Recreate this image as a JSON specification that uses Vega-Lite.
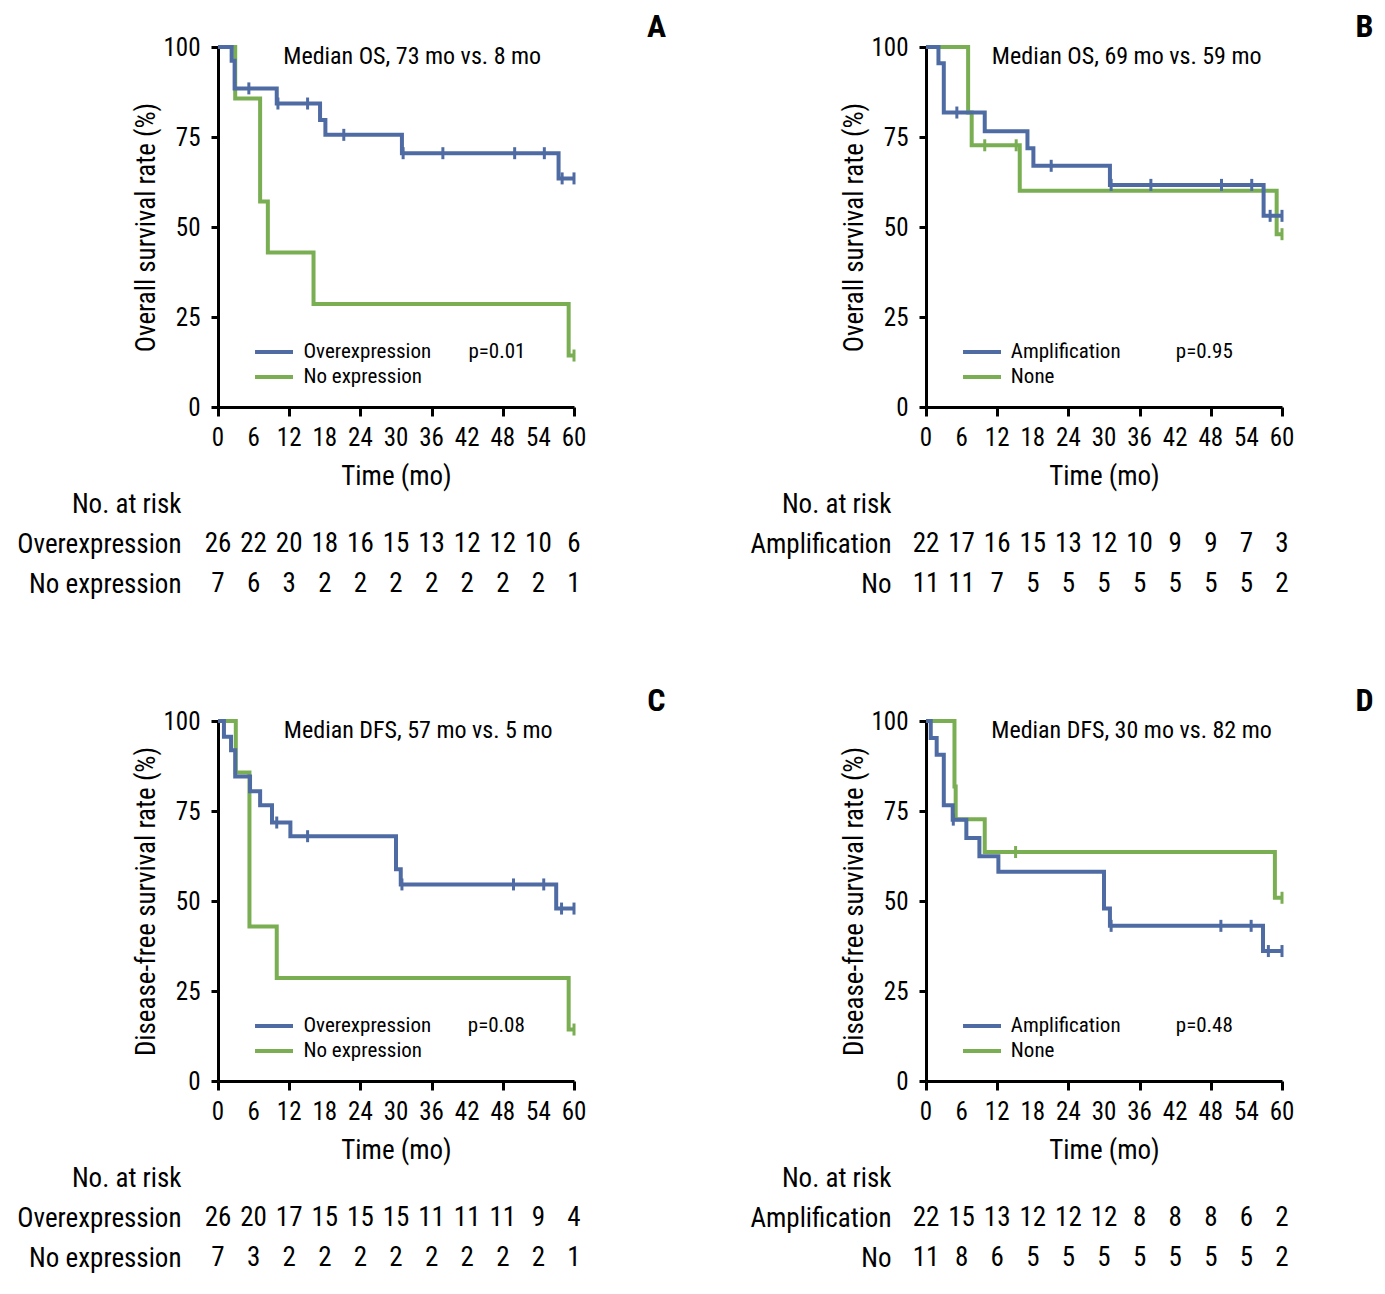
{
  "$schema": "https://vega.github.io/schema/vega-lite/v6.json",
  "autosize": {"type": "pad"},
  "padding": {"left": 16, "top": 11, "right": 10, "bottom": 10},
  "background": "white",
  "columns": 2,
  "spacing": {"row": 97, "column": 352},
  "bounds": "flush",
  "align": "each",
  "datasets": {
    "ticks": [{"v":0},{"v":6},{"v":12},{"v":18},{"v":24},{"v":30},{"v":36},{"v":42},{"v":48},{"v":54},{"v":60}],
    "km": [
      {"p":"A","g":"No expression","t":0,"s":100,"c":0},
      {"p":"A","g":"No expression","t":2.9,"s":85.7,"c":0},
      {"p":"A","g":"No expression","t":7.1,"s":57.1,"c":0},
      {"p":"A","g":"No expression","t":8.4,"s":42.9,"c":0},
      {"p":"A","g":"No expression","t":16.1,"s":28.6,"c":0},
      {"p":"A","g":"No expression","t":59.1,"s":14.3,"c":0},
      {"p":"A","g":"No expression","t":60,"s":14.3,"c":1},
      {"p":"A","g":"Overexpression","t":0,"s":100,"c":0},
      {"p":"A","g":"Overexpression","t":2.3,"s":96.2,"c":0},
      {"p":"A","g":"Overexpression","t":2.8,"s":88.5,"c":0},
      {"p":"A","g":"Overexpression","t":5.2,"s":88.5,"c":1},
      {"p":"A","g":"Overexpression","t":9.9,"s":84.3,"c":0},
      {"p":"A","g":"Overexpression","t":10.1,"s":84.3,"c":1},
      {"p":"A","g":"Overexpression","t":15.1,"s":84.3,"c":1},
      {"p":"A","g":"Overexpression","t":17.2,"s":79.7,"c":0},
      {"p":"A","g":"Overexpression","t":18.1,"s":75.6,"c":0},
      {"p":"A","g":"Overexpression","t":21.2,"s":75.6,"c":1},
      {"p":"A","g":"Overexpression","t":31.0,"s":70.5,"c":0},
      {"p":"A","g":"Overexpression","t":31.2,"s":70.5,"c":1},
      {"p":"A","g":"Overexpression","t":37.9,"s":70.5,"c":1},
      {"p":"A","g":"Overexpression","t":50.0,"s":70.5,"c":1},
      {"p":"A","g":"Overexpression","t":55.0,"s":70.5,"c":1},
      {"p":"A","g":"Overexpression","t":57.4,"s":63.5,"c":0},
      {"p":"A","g":"Overexpression","t":58.0,"s":63.5,"c":1},
      {"p":"A","g":"Overexpression","t":60,"s":63.5,"c":1},
      {"p":"B","g":"None","t":0,"s":100,"c":0},
      {"p":"B","g":"None","t":7.1,"s":81.8,"c":0},
      {"p":"B","g":"None","t":7.7,"s":72.7,"c":0},
      {"p":"B","g":"None","t":9.9,"s":72.7,"c":1},
      {"p":"B","g":"None","t":15.2,"s":72.7,"c":1},
      {"p":"B","g":"None","t":15.8,"s":60.1,"c":0},
      {"p":"B","g":"None","t":59.1,"s":48.0,"c":0},
      {"p":"B","g":"None","t":60,"s":48.0,"c":1},
      {"p":"B","g":"Amplification","t":0,"s":100,"c":0},
      {"p":"B","g":"Amplification","t":2.1,"s":95.5,"c":0},
      {"p":"B","g":"Amplification","t":3.0,"s":81.8,"c":0},
      {"p":"B","g":"Amplification","t":5.2,"s":81.8,"c":1},
      {"p":"B","g":"Amplification","t":9.9,"s":76.6,"c":0},
      {"p":"B","g":"Amplification","t":17.1,"s":71.9,"c":0},
      {"p":"B","g":"Amplification","t":18.1,"s":67.0,"c":0},
      {"p":"B","g":"Amplification","t":21.1,"s":67.0,"c":1},
      {"p":"B","g":"Amplification","t":31.0,"s":61.7,"c":0},
      {"p":"B","g":"Amplification","t":31.2,"s":61.7,"c":1},
      {"p":"B","g":"Amplification","t":37.9,"s":61.7,"c":1},
      {"p":"B","g":"Amplification","t":49.8,"s":61.7,"c":1},
      {"p":"B","g":"Amplification","t":54.9,"s":61.7,"c":1},
      {"p":"B","g":"Amplification","t":56.9,"s":53.1,"c":0},
      {"p":"B","g":"Amplification","t":58.0,"s":53.1,"c":1},
      {"p":"B","g":"Amplification","t":60,"s":53.1,"c":1},
      {"p":"C","g":"No expression","t":0,"s":100,"c":0},
      {"p":"C","g":"No expression","t":3.0,"s":85.7,"c":0},
      {"p":"C","g":"No expression","t":5.3,"s":42.9,"c":0},
      {"p":"C","g":"No expression","t":9.9,"s":28.6,"c":0},
      {"p":"C","g":"No expression","t":59.1,"s":14.3,"c":0},
      {"p":"C","g":"No expression","t":60,"s":14.3,"c":1},
      {"p":"C","g":"Overexpression","t":0,"s":100,"c":0},
      {"p":"C","g":"Overexpression","t":1.0,"s":95.6,"c":0},
      {"p":"C","g":"Overexpression","t":2.2,"s":91.9,"c":0},
      {"p":"C","g":"Overexpression","t":2.9,"s":84.6,"c":0},
      {"p":"C","g":"Overexpression","t":5.4,"s":80.5,"c":0},
      {"p":"C","g":"Overexpression","t":7.1,"s":76.6,"c":0},
      {"p":"C","g":"Overexpression","t":9.1,"s":71.8,"c":0},
      {"p":"C","g":"Overexpression","t":9.9,"s":71.8,"c":1},
      {"p":"C","g":"Overexpression","t":12.2,"s":68.0,"c":0},
      {"p":"C","g":"Overexpression","t":15.1,"s":68.0,"c":1},
      {"p":"C","g":"Overexpression","t":30.0,"s":58.8,"c":0},
      {"p":"C","g":"Overexpression","t":30.8,"s":54.6,"c":0},
      {"p":"C","g":"Overexpression","t":31.0,"s":54.6,"c":1},
      {"p":"C","g":"Overexpression","t":49.8,"s":54.6,"c":1},
      {"p":"C","g":"Overexpression","t":54.9,"s":54.6,"c":1},
      {"p":"C","g":"Overexpression","t":57.0,"s":47.9,"c":0},
      {"p":"C","g":"Overexpression","t":57.9,"s":47.9,"c":1},
      {"p":"C","g":"Overexpression","t":60,"s":47.9,"c":1},
      {"p":"D","g":"None","t":0,"s":100,"c":0},
      {"p":"D","g":"None","t":4.8,"s":81.8,"c":0},
      {"p":"D","g":"None","t":5.0,"s":72.7,"c":0},
      {"p":"D","g":"None","t":9.9,"s":63.6,"c":0},
      {"p":"D","g":"None","t":15.1,"s":63.6,"c":1},
      {"p":"D","g":"None","t":58.8,"s":50.9,"c":0},
      {"p":"D","g":"None","t":60,"s":50.9,"c":1},
      {"p":"D","g":"Amplification","t":0,"s":100,"c":0},
      {"p":"D","g":"Amplification","t":0.8,"s":95.3,"c":0},
      {"p":"D","g":"Amplification","t":1.8,"s":90.6,"c":0},
      {"p":"D","g":"Amplification","t":3.0,"s":76.6,"c":0},
      {"p":"D","g":"Amplification","t":4.5,"s":72.6,"c":0},
      {"p":"D","g":"Amplification","t":4.6,"s":72.6,"c":1},
      {"p":"D","g":"Amplification","t":6.8,"s":67.5,"c":0},
      {"p":"D","g":"Amplification","t":9.0,"s":62.4,"c":0},
      {"p":"D","g":"Amplification","t":12.2,"s":58.1,"c":0},
      {"p":"D","g":"Amplification","t":30.0,"s":47.9,"c":0},
      {"p":"D","g":"Amplification","t":31.0,"s":43.1,"c":0},
      {"p":"D","g":"Amplification","t":31.2,"s":43.1,"c":1},
      {"p":"D","g":"Amplification","t":49.7,"s":43.1,"c":1},
      {"p":"D","g":"Amplification","t":54.8,"s":43.1,"c":1},
      {"p":"D","g":"Amplification","t":56.8,"s":36.1,"c":0},
      {"p":"D","g":"Amplification","t":57.7,"s":36.1,"c":1},
      {"p":"D","g":"Amplification","t":60,"s":36.1,"c":1}
    ],
    "risk": [
      {"p":"A","row":"Overexpression","t":0,"n":26},{"p":"A","row":"Overexpression","t":6,"n":22},{"p":"A","row":"Overexpression","t":12,"n":20},{"p":"A","row":"Overexpression","t":18,"n":18},{"p":"A","row":"Overexpression","t":24,"n":16},{"p":"A","row":"Overexpression","t":30,"n":15},{"p":"A","row":"Overexpression","t":36,"n":13},{"p":"A","row":"Overexpression","t":42,"n":12},{"p":"A","row":"Overexpression","t":48,"n":12},{"p":"A","row":"Overexpression","t":54,"n":10},{"p":"A","row":"Overexpression","t":60,"n":6},
      {"p":"A","row":"No expression","t":0,"n":7},{"p":"A","row":"No expression","t":6,"n":6},{"p":"A","row":"No expression","t":12,"n":3},{"p":"A","row":"No expression","t":18,"n":2},{"p":"A","row":"No expression","t":24,"n":2},{"p":"A","row":"No expression","t":30,"n":2},{"p":"A","row":"No expression","t":36,"n":2},{"p":"A","row":"No expression","t":42,"n":2},{"p":"A","row":"No expression","t":48,"n":2},{"p":"A","row":"No expression","t":54,"n":2},{"p":"A","row":"No expression","t":60,"n":1},
      {"p":"B","row":"Amplification","t":0,"n":22},{"p":"B","row":"Amplification","t":6,"n":17},{"p":"B","row":"Amplification","t":12,"n":16},{"p":"B","row":"Amplification","t":18,"n":15},{"p":"B","row":"Amplification","t":24,"n":13},{"p":"B","row":"Amplification","t":30,"n":12},{"p":"B","row":"Amplification","t":36,"n":10},{"p":"B","row":"Amplification","t":42,"n":9},{"p":"B","row":"Amplification","t":48,"n":9},{"p":"B","row":"Amplification","t":54,"n":7},{"p":"B","row":"Amplification","t":60,"n":3},
      {"p":"B","row":"No","t":0,"n":11},{"p":"B","row":"No","t":6,"n":11},{"p":"B","row":"No","t":12,"n":7},{"p":"B","row":"No","t":18,"n":5},{"p":"B","row":"No","t":24,"n":5},{"p":"B","row":"No","t":30,"n":5},{"p":"B","row":"No","t":36,"n":5},{"p":"B","row":"No","t":42,"n":5},{"p":"B","row":"No","t":48,"n":5},{"p":"B","row":"No","t":54,"n":5},{"p":"B","row":"No","t":60,"n":2},
      {"p":"C","row":"Overexpression","t":0,"n":26},{"p":"C","row":"Overexpression","t":6,"n":20},{"p":"C","row":"Overexpression","t":12,"n":17},{"p":"C","row":"Overexpression","t":18,"n":15},{"p":"C","row":"Overexpression","t":24,"n":15},{"p":"C","row":"Overexpression","t":30,"n":15},{"p":"C","row":"Overexpression","t":36,"n":11},{"p":"C","row":"Overexpression","t":42,"n":11},{"p":"C","row":"Overexpression","t":48,"n":11},{"p":"C","row":"Overexpression","t":54,"n":9},{"p":"C","row":"Overexpression","t":60,"n":4},
      {"p":"C","row":"No expression","t":0,"n":7},{"p":"C","row":"No expression","t":6,"n":3},{"p":"C","row":"No expression","t":12,"n":2},{"p":"C","row":"No expression","t":18,"n":2},{"p":"C","row":"No expression","t":24,"n":2},{"p":"C","row":"No expression","t":30,"n":2},{"p":"C","row":"No expression","t":36,"n":2},{"p":"C","row":"No expression","t":42,"n":2},{"p":"C","row":"No expression","t":48,"n":2},{"p":"C","row":"No expression","t":54,"n":2},{"p":"C","row":"No expression","t":60,"n":1},
      {"p":"D","row":"Amplification","t":0,"n":22},{"p":"D","row":"Amplification","t":6,"n":15},{"p":"D","row":"Amplification","t":12,"n":13},{"p":"D","row":"Amplification","t":18,"n":12},{"p":"D","row":"Amplification","t":24,"n":12},{"p":"D","row":"Amplification","t":30,"n":12},{"p":"D","row":"Amplification","t":36,"n":8},{"p":"D","row":"Amplification","t":42,"n":8},{"p":"D","row":"Amplification","t":48,"n":8},{"p":"D","row":"Amplification","t":54,"n":6},{"p":"D","row":"Amplification","t":60,"n":2},
      {"p":"D","row":"No","t":0,"n":11},{"p":"D","row":"No","t":6,"n":8},{"p":"D","row":"No","t":12,"n":6},{"p":"D","row":"No","t":18,"n":5},{"p":"D","row":"No","t":24,"n":5},{"p":"D","row":"No","t":30,"n":5},{"p":"D","row":"No","t":36,"n":5},{"p":"D","row":"No","t":42,"n":5},{"p":"D","row":"No","t":48,"n":5},{"p":"D","row":"No","t":54,"n":5},{"p":"D","row":"No","t":60,"n":2}
    ]
  },
  "concat": [
    {
      "width": 356, "height": 360,
      "layer": [
        {
          "data": {"name": "km"},
          "transform": [{"filter": "datum.p === 'A'"}],
          "mark": {"type": "line", "interpolate": "step-after", "strokeWidth": 4},
          "encoding": {
            "x": {"field": "t", "type": "quantitative", "scale": {"domain": [0, 60], "nice": false}, "axis": {"values": [0,6,12,18,24,30,36,42,48,54,60], "title": "Time (mo)", "labels": false}},
            "y": {"field": "s", "type": "quantitative", "scale": {"domain": [0, 100], "nice": false}, "axis": {"values": [0,25,50,75,100], "title": "Overall survival rate (%)"}},
            "color": {"field": "g", "type": "nominal", "scale": {"domain": ["Overexpression", "No expression"], "range": ["#4F6BA3", "#7AAE52"]}, "legend": null}
          }
        },
        {
          "data": {"name": "km"},
          "transform": [{"filter": "datum.p === 'A' && datum.c === 1"}],
          "mark": {"type": "tick", "orient": "vertical", "size": 12, "thickness": 3, "opacity": 1},
          "encoding": {"x": {"field": "t", "type": "quantitative"}, "y": {"field": "s", "type": "quantitative"}, "color": {"field": "g", "type": "nominal"}}
        },
        {"data": {"name": "ticks"}, "mark": {"type": "text", "align": "center", "baseline": "top", "dy": 19, "fontSize": 25, "color": "black"}, "encoding": {"x": {"field": "v", "type": "quantitative"}, "y": {"datum": 0}, "text": {"field": "v", "type": "quantitative"}}},
        {"data": {"values": [{"g": "Overexpression"}]}, "mark": {"type": "rule", "strokeWidth": 4}, "encoding": {"x": {"datum": 6.24}, "x2": {"datum": 12.64}, "y": {"datum": 15.3}, "color": {"field": "g", "type": "nominal"}}},
        {"data": {"values": [{"g": "No expression"}]}, "mark": {"type": "rule", "strokeWidth": 4}, "encoding": {"x": {"datum": 6.24}, "x2": {"datum": 12.64}, "y": {"datum": 8.3}, "color": {"field": "g", "type": "nominal"}}},
        {"data": {"values": [{"label": "Overexpression"}]}, "mark": {"type": "text", "align": "left", "baseline": "middle", "fontSize": 21, "color": "black"}, "encoding": {"x": {"datum": 14.4}, "y": {"datum": 15.3}, "text": {"field": "label"}}},
        {"data": {"values": [{"label": "No expression"}]}, "mark": {"type": "text", "align": "left", "baseline": "middle", "fontSize": 21, "color": "black"}, "encoding": {"x": {"datum": 14.4}, "y": {"datum": 8.3}, "text": {"field": "label"}}},
        {
          "data": {"values": [{"label": "Median OS, 73 mo vs. 8 mo"}]},
          "mark": {"type": "text", "align": "left", "baseline": "middle", "fontSize": 24, "color": "black"},
          "encoding": {"x": {"datum": 11}, "y": {"datum": 97.3}, "text": {"field": "label"}}
        },
        {
          "data": {"values": [{"label": "p=0.01"}]},
          "mark": {"type": "text", "align": "left", "baseline": "middle", "fontSize": 21, "color": "black"},
          "encoding": {"x": {"datum": 42.2}, "y": {"datum": 15.3}, "text": {"field": "label"}}
        },
        {
          "data": {"values": [{"label": "A"}]},
          "mark": {"type": "text", "align": "center", "baseline": "middle", "fontSize": 32, "fontWeight": "bold", "color": "black"},
          "encoding": {"x": {"datum": 73.9}, "y": {"datum": 105.5}, "text": {"field": "label"}}
        }
      ]
    },
    {
      "width": 356, "height": 360,
      "layer": [
        {
          "data": {"name": "km"},
          "transform": [{"filter": "datum.p === 'B'"}],
          "mark": {"type": "line", "interpolate": "step-after", "strokeWidth": 4},
          "encoding": {
            "x": {"field": "t", "type": "quantitative", "scale": {"domain": [0, 60], "nice": false}, "axis": {"values": [0,6,12,18,24,30,36,42,48,54,60], "title": "Time (mo)", "labels": false}},
            "y": {"field": "s", "type": "quantitative", "scale": {"domain": [0, 100], "nice": false}, "axis": {"values": [0,25,50,75,100], "title": "Overall survival rate (%)"}},
            "color": {"field": "g", "type": "nominal", "scale": {"domain": ["Amplification", "None"], "range": ["#4F6BA3", "#7AAE52"]}, "legend": null}
          }
        },
        {
          "data": {"name": "km"},
          "transform": [{"filter": "datum.p === 'B' && datum.c === 1"}],
          "mark": {"type": "tick", "orient": "vertical", "size": 12, "thickness": 3, "opacity": 1},
          "encoding": {"x": {"field": "t", "type": "quantitative"}, "y": {"field": "s", "type": "quantitative"}, "color": {"field": "g", "type": "nominal"}}
        },
        {"data": {"name": "ticks"}, "mark": {"type": "text", "align": "center", "baseline": "top", "dy": 19, "fontSize": 25, "color": "black"}, "encoding": {"x": {"field": "v", "type": "quantitative"}, "y": {"datum": 0}, "text": {"field": "v", "type": "quantitative"}}},
        {"data": {"values": [{"g": "Amplification"}]}, "mark": {"type": "rule", "strokeWidth": 4}, "encoding": {"x": {"datum": 6.24}, "x2": {"datum": 12.64}, "y": {"datum": 15.3}, "color": {"field": "g", "type": "nominal"}}},
        {"data": {"values": [{"g": "None"}]}, "mark": {"type": "rule", "strokeWidth": 4}, "encoding": {"x": {"datum": 6.24}, "x2": {"datum": 12.64}, "y": {"datum": 8.3}, "color": {"field": "g", "type": "nominal"}}},
        {"data": {"values": [{"label": "Amplification"}]}, "mark": {"type": "text", "align": "left", "baseline": "middle", "fontSize": 21, "color": "black"}, "encoding": {"x": {"datum": 14.3}, "y": {"datum": 15.3}, "text": {"field": "label"}}},
        {"data": {"values": [{"label": "None"}]}, "mark": {"type": "text", "align": "left", "baseline": "middle", "fontSize": 21, "color": "black"}, "encoding": {"x": {"datum": 14.3}, "y": {"datum": 8.3}, "text": {"field": "label"}}},
        {
          "data": {"values": [{"label": "Median OS, 69 mo vs. 59 mo"}]},
          "mark": {"type": "text", "align": "left", "baseline": "middle", "fontSize": 24, "color": "black"},
          "encoding": {"x": {"datum": 11.1}, "y": {"datum": 97.3}, "text": {"field": "label"}}
        },
        {
          "data": {"values": [{"label": "p=0.95"}]},
          "mark": {"type": "text", "align": "left", "baseline": "middle", "fontSize": 21, "color": "black"},
          "encoding": {"x": {"datum": 42.1}, "y": {"datum": 15.3}, "text": {"field": "label"}}
        },
        {
          "data": {"values": [{"label": "B"}]},
          "mark": {"type": "text", "align": "center", "baseline": "middle", "fontSize": 32, "fontWeight": "bold", "color": "black"},
          "encoding": {"x": {"datum": 73.9}, "y": {"datum": 105.5}, "text": {"field": "label"}}
        }
      ]
    },
    {
      "width": 356, "height": 120,
      "data": {"name": "risk"},
      "transform": [{"filter": "datum.p === 'A'"}],
      "mark": {"type": "text", "align": "center", "baseline": "middle", "fontSize": 27, "color": "black"},
      "encoding": {
        "x": {"field": "t", "type": "quantitative", "scale": {"domain": [0, 60], "nice": false}, "axis": null},
        "y": {"field": "row", "type": "nominal", "scale": {"type": "point", "domain": ["No. at risk", "Overexpression", "No expression", ""], "padding": 0},
          "axis": {"title": null, "domain": false, "ticks": false, "labelFontSize": 27, "labelPadding": 37, "labelLimit": 400, "labelColor": "black"}},
        "text": {"field": "n", "type": "quantitative"}
      }
    },
    {
      "width": 356, "height": 120,
      "data": {"name": "risk"},
      "transform": [{"filter": "datum.p === 'B'"}],
      "mark": {"type": "text", "align": "center", "baseline": "middle", "fontSize": 27, "color": "black"},
      "encoding": {
        "x": {"field": "t", "type": "quantitative", "scale": {"domain": [0, 60], "nice": false}, "axis": null},
        "y": {"field": "row", "type": "nominal", "scale": {"type": "point", "domain": ["No. at risk", "Amplification", "No", ""], "padding": 0},
          "axis": {"title": null, "domain": false, "ticks": false, "labelFontSize": 27, "labelPadding": 35, "labelLimit": 400, "labelColor": "black"}},
        "text": {"field": "n", "type": "quantitative"}
      }
    },
    {
      "width": 356, "height": 360,
      "layer": [
        {
          "data": {"name": "km"},
          "transform": [{"filter": "datum.p === 'C'"}],
          "mark": {"type": "line", "interpolate": "step-after", "strokeWidth": 4},
          "encoding": {
            "x": {"field": "t", "type": "quantitative", "scale": {"domain": [0, 60], "nice": false}, "axis": {"values": [0,6,12,18,24,30,36,42,48,54,60], "title": "Time (mo)", "labels": false}},
            "y": {"field": "s", "type": "quantitative", "scale": {"domain": [0, 100], "nice": false}, "axis": {"values": [0,25,50,75,100], "title": "Disease-free survival rate (%)"}},
            "color": {"field": "g", "type": "nominal", "scale": {"domain": ["Overexpression", "No expression"], "range": ["#4F6BA3", "#7AAE52"]}, "legend": null}
          }
        },
        {
          "data": {"name": "km"},
          "transform": [{"filter": "datum.p === 'C' && datum.c === 1"}],
          "mark": {"type": "tick", "orient": "vertical", "size": 12, "thickness": 3, "opacity": 1},
          "encoding": {"x": {"field": "t", "type": "quantitative"}, "y": {"field": "s", "type": "quantitative"}, "color": {"field": "g", "type": "nominal"}}
        },
        {"data": {"name": "ticks"}, "mark": {"type": "text", "align": "center", "baseline": "top", "dy": 19, "fontSize": 25, "color": "black"}, "encoding": {"x": {"field": "v", "type": "quantitative"}, "y": {"datum": 0}, "text": {"field": "v", "type": "quantitative"}}},
        {"data": {"values": [{"g": "Overexpression"}]}, "mark": {"type": "rule", "strokeWidth": 4}, "encoding": {"x": {"datum": 6.24}, "x2": {"datum": 12.64}, "y": {"datum": 15.3}, "color": {"field": "g", "type": "nominal"}}},
        {"data": {"values": [{"g": "No expression"}]}, "mark": {"type": "rule", "strokeWidth": 4}, "encoding": {"x": {"datum": 6.24}, "x2": {"datum": 12.64}, "y": {"datum": 8.3}, "color": {"field": "g", "type": "nominal"}}},
        {"data": {"values": [{"label": "Overexpression"}]}, "mark": {"type": "text", "align": "left", "baseline": "middle", "fontSize": 21, "color": "black"}, "encoding": {"x": {"datum": 14.4}, "y": {"datum": 15.3}, "text": {"field": "label"}}},
        {"data": {"values": [{"label": "No expression"}]}, "mark": {"type": "text", "align": "left", "baseline": "middle", "fontSize": 21, "color": "black"}, "encoding": {"x": {"datum": 14.4}, "y": {"datum": 8.3}, "text": {"field": "label"}}},
        {
          "data": {"values": [{"label": "Median DFS, 57 mo vs. 5 mo"}]},
          "mark": {"type": "text", "align": "left", "baseline": "middle", "fontSize": 24, "color": "black"},
          "encoding": {"x": {"datum": 11.1}, "y": {"datum": 97.3}, "text": {"field": "label"}}
        },
        {
          "data": {"values": [{"label": "p=0.08"}]},
          "mark": {"type": "text", "align": "left", "baseline": "middle", "fontSize": 21, "color": "black"},
          "encoding": {"x": {"datum": 42.1}, "y": {"datum": 15.3}, "text": {"field": "label"}}
        },
        {
          "data": {"values": [{"label": "C"}]},
          "mark": {"type": "text", "align": "center", "baseline": "middle", "fontSize": 32, "fontWeight": "bold", "color": "black"},
          "encoding": {"x": {"datum": 73.9}, "y": {"datum": 105.6}, "text": {"field": "label"}}
        }
      ]
    },
    {
      "width": 356, "height": 360,
      "layer": [
        {
          "data": {"name": "km"},
          "transform": [{"filter": "datum.p === 'D'"}],
          "mark": {"type": "line", "interpolate": "step-after", "strokeWidth": 4},
          "encoding": {
            "x": {"field": "t", "type": "quantitative", "scale": {"domain": [0, 60], "nice": false}, "axis": {"values": [0,6,12,18,24,30,36,42,48,54,60], "title": "Time (mo)", "labels": false}},
            "y": {"field": "s", "type": "quantitative", "scale": {"domain": [0, 100], "nice": false}, "axis": {"values": [0,25,50,75,100], "title": "Disease-free survival rate (%)"}},
            "color": {"field": "g", "type": "nominal", "scale": {"domain": ["Amplification", "None"], "range": ["#4F6BA3", "#7AAE52"]}, "legend": null}
          }
        },
        {
          "data": {"name": "km"},
          "transform": [{"filter": "datum.p === 'D' && datum.c === 1"}],
          "mark": {"type": "tick", "orient": "vertical", "size": 12, "thickness": 3, "opacity": 1},
          "encoding": {"x": {"field": "t", "type": "quantitative"}, "y": {"field": "s", "type": "quantitative"}, "color": {"field": "g", "type": "nominal"}}
        },
        {"data": {"name": "ticks"}, "mark": {"type": "text", "align": "center", "baseline": "top", "dy": 19, "fontSize": 25, "color": "black"}, "encoding": {"x": {"field": "v", "type": "quantitative"}, "y": {"datum": 0}, "text": {"field": "v", "type": "quantitative"}}},
        {"data": {"values": [{"g": "Amplification"}]}, "mark": {"type": "rule", "strokeWidth": 4}, "encoding": {"x": {"datum": 6.24}, "x2": {"datum": 12.64}, "y": {"datum": 15.3}, "color": {"field": "g", "type": "nominal"}}},
        {"data": {"values": [{"g": "None"}]}, "mark": {"type": "rule", "strokeWidth": 4}, "encoding": {"x": {"datum": 6.24}, "x2": {"datum": 12.64}, "y": {"datum": 8.3}, "color": {"field": "g", "type": "nominal"}}},
        {"data": {"values": [{"label": "Amplification"}]}, "mark": {"type": "text", "align": "left", "baseline": "middle", "fontSize": 21, "color": "black"}, "encoding": {"x": {"datum": 14.3}, "y": {"datum": 15.3}, "text": {"field": "label"}}},
        {"data": {"values": [{"label": "None"}]}, "mark": {"type": "text", "align": "left", "baseline": "middle", "fontSize": 21, "color": "black"}, "encoding": {"x": {"datum": 14.3}, "y": {"datum": 8.3}, "text": {"field": "label"}}},
        {
          "data": {"values": [{"label": "Median DFS, 30 mo vs. 82 mo"}]},
          "mark": {"type": "text", "align": "left", "baseline": "middle", "fontSize": 24, "color": "black"},
          "encoding": {"x": {"datum": 11.0}, "y": {"datum": 97.3}, "text": {"field": "label"}}
        },
        {
          "data": {"values": [{"label": "p=0.48"}]},
          "mark": {"type": "text", "align": "left", "baseline": "middle", "fontSize": 21, "color": "black"},
          "encoding": {"x": {"datum": 42.1}, "y": {"datum": 15.3}, "text": {"field": "label"}}
        },
        {
          "data": {"values": [{"label": "D"}]},
          "mark": {"type": "text", "align": "center", "baseline": "middle", "fontSize": 32, "fontWeight": "bold", "color": "black"},
          "encoding": {"x": {"datum": 73.9}, "y": {"datum": 105.6}, "text": {"field": "label"}}
        }
      ]
    },
    {
      "width": 356, "height": 120,
      "data": {"name": "risk"},
      "transform": [{"filter": "datum.p === 'C'"}],
      "mark": {"type": "text", "align": "center", "baseline": "middle", "fontSize": 27, "color": "black"},
      "encoding": {
        "x": {"field": "t", "type": "quantitative", "scale": {"domain": [0, 60], "nice": false}, "axis": null},
        "y": {"field": "row", "type": "nominal", "scale": {"type": "point", "domain": ["No. at risk", "Overexpression", "No expression", ""], "padding": 0},
          "axis": {"title": null, "domain": false, "ticks": false, "labelFontSize": 27, "labelPadding": 37, "labelLimit": 400, "labelColor": "black"}},
        "text": {"field": "n", "type": "quantitative"}
      }
    },
    {
      "width": 356, "height": 120,
      "data": {"name": "risk"},
      "transform": [{"filter": "datum.p === 'D'"}],
      "mark": {"type": "text", "align": "center", "baseline": "middle", "fontSize": 27, "color": "black"},
      "encoding": {
        "x": {"field": "t", "type": "quantitative", "scale": {"domain": [0, 60], "nice": false}, "axis": null},
        "y": {"field": "row", "type": "nominal", "scale": {"type": "point", "domain": ["No. at risk", "Amplification", "No", ""], "padding": 0},
          "axis": {"title": null, "domain": false, "ticks": false, "labelFontSize": 27, "labelPadding": 35, "labelLimit": 400, "labelColor": "black"}},
        "text": {"field": "n", "type": "quantitative"}
      }
    }
  ],
  "resolve": {"scale": {"x": "independent", "y": "independent", "color": "independent"}},
  "config": {
    "font": "Roboto Condensed, Liberation Sans Narrow, Roboto, sans-serif",
    "view": {"stroke": null},
    "axis": {"grid": false, "domainColor": "black", "domainWidth": 3, "tickColor": "black", "tickWidth": 3, "labelColor": "black", "titleColor": "black", "titleFontWeight": "normal", "labelFlush": false},
    "axisX": {"tickSize": 9, "titleFontSize": 27, "titlePadding": 46},
    "axisY": {"labelFontSize": 25, "tickSize": 7, "labelPadding": 11, "titleFontSize": 27, "titlePadding": 2}
  }
}
